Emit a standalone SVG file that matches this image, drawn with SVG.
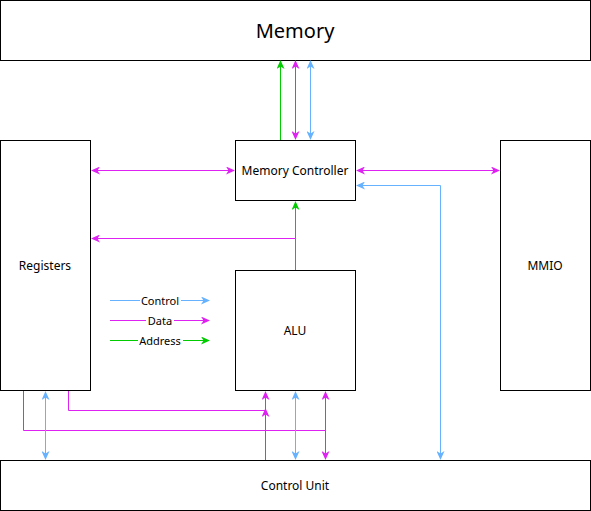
<svg xmlns="http://www.w3.org/2000/svg" width="591" height="511" viewBox="0 0 591 511">
<style>
.box{fill:#fff;stroke:#000;stroke-width:1}
.t{font-family:"Noto Sans","Open Sans",sans-serif;font-size:12px;fill:#000;text-anchor:middle;dominant-baseline:central}
.c{fill:none;stroke:#66B2FF;stroke-width:1}
.d{fill:none;stroke:#DD22F2;stroke-width:1}
.a{fill:none;stroke:#00CC00;stroke-width:1}
.lt{font-family:"Noto Sans","Open Sans",sans-serif;font-size:11px;fill:#000;text-anchor:middle;dominant-baseline:central}
</style>
<defs>
<marker id="mc" markerWidth="9" markerHeight="8" refX="8" refY="4" orient="auto-start-reverse" markerUnits="userSpaceOnUse"><path d="M0,0 L9,4 L0,8 L2.5,4 z" fill="#66B2FF"/></marker>
<marker id="md" markerWidth="9" markerHeight="8" refX="8" refY="4" orient="auto-start-reverse" markerUnits="userSpaceOnUse"><path d="M0,0 L9,4 L0,8 L2.5,4 z" fill="#DD22F2"/></marker>
<marker id="ma" markerWidth="9" markerHeight="8" refX="8" refY="4" orient="auto-start-reverse" markerUnits="userSpaceOnUse"><path d="M0,0 L9,4 L0,8 L2.5,4 z" fill="#00CC00"/></marker>
</defs>
<rect width="591" height="511" fill="#fff"/>
<g id="memory"><rect class="box" x="0.5" y="0.5" width="590" height="60"/><text class="t" x="295" y="30" style="font-size:20px">Memory</text></g>
<g id="memctrl"><rect class="box" x="235.5" y="140.5" width="120" height="60"/><text class="t" x="295" y="170">Memory Controller</text></g>
<g id="registers"><rect class="box" x="0.5" y="140.5" width="90" height="250"/><text class="t" x="45" y="265">Registers</text></g>
<g id="mmio"><rect class="box" x="500.5" y="140.5" width="90" height="250"/><text class="t" x="545" y="265">MMIO</text></g>
<g id="alu"><rect class="box" x="235.5" y="270.5" width="120" height="120"/><text class="t" x="295" y="330">ALU</text></g>
<g id="cu"><rect class="box" x="0.5" y="460.5" width="590" height="50"/><text class="t" x="295" y="485">Control Unit</text></g>
<g id="connectors">
<path class="a" d="M280.5,140 V61" marker-end="url(#ma)"/>
<path class="d" d="M295.5,139 V61" marker-start="url(#md)" marker-end="url(#md)"/>
<path class="c" d="M310.5,139 V61" marker-start="url(#mc)" marker-end="url(#mc)"/>
<path class="d" d="M234,170.5 H92" marker-start="url(#md)" marker-end="url(#md)"/>
<path class="d" d="M357,170.5 H499" marker-start="url(#md)" marker-end="url(#md)"/>
<path class="c" d="M440.5,459 V185.5 H357" marker-start="url(#mc)" marker-end="url(#mc)"/>
<path class="d" d="M295.5,270 V238.5 H92" marker-end="url(#md)"/>
<path class="a" d="M295.5,270 V202" marker-end="url(#ma)"/>
<path class="d" d="M68.5,391 V410.5 H265.5" />
<path class="d" d="M265.5,410.5 V409" marker-end="url(#md)"/>
<path class="d" d="M265.5,460 V392" marker-end="url(#md)"/>
<path class="d" d="M23.5,391 V430.5 H325.5"/>
<path class="d" d="M325.5,392 V459" marker-start="url(#md)" marker-end="url(#md)"/>
<path class="c" d="M45.5,392 V459" marker-start="url(#mc)" marker-end="url(#mc)"/>
<path class="c" d="M295.5,392 V459" marker-start="url(#mc)" marker-end="url(#mc)"/>
</g>
<g id="legend">
<path class="c" d="M110,300.5 H209" marker-end="url(#mc)"/>
<rect x="140" y="294" width="41" height="13" fill="#fff"/><text class="lt" x="160" y="300">Control</text>
<path class="d" d="M110,320.5 H209" marker-end="url(#md)"/>
<rect x="146" y="314" width="28" height="13" fill="#fff"/><text class="lt" x="160" y="320">Data</text>
<path class="a" d="M110,340.5 H209" marker-end="url(#ma)"/>
<rect x="138" y="334" width="45" height="13" fill="#fff"/><text class="lt" x="160" y="340">Address</text>
</g>
</svg>
